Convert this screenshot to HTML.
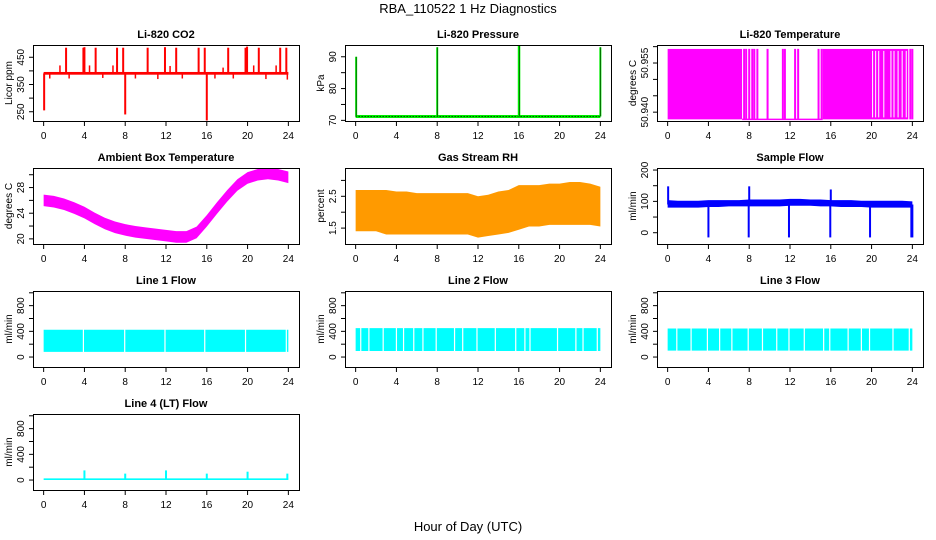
<!DOCTYPE html>
<html><head><meta charset="utf-8">
<style>
html,body{margin:0;padding:0;background:#fff;}
svg{display:block;font-family:"Liberation Sans",Arial,sans-serif;}
</style></head>
<body>
<svg id="chart" width="936" height="540" viewBox="0 0 936 540" xmlns="http://www.w3.org/2000/svg">
<text x="468" y="13" font-size="13" text-anchor="middle">RBA_110522  1 Hz Diagnostics</text>
<text x="468" y="531" font-size="13" text-anchor="middle">Hour of Day (UTC)</text>
<g id="panels"></g>
</svg>
<script>
// ---------- data ----------
const hours = [0,1,2,3,4,5,6,7,8,9,10,11,12,13,14,15,16,17,18,19,20,21,22,23,24];
const xTicks = [0,4,8,12,16,20,24];

// CO2
const co2Base = 391;
const co2SpikeHours = [0.05,2.2,3.9,4.0,5.1,7.2,7.8,8.0,10.2,11.9,13.0,15.2,15.8,16.0,18.1,19.8,19.95,21.1,23.2,23.8];
const co2SpikeVals  = [255,485,485,487,485,485,485,240,485,487,485,485,485,218,485,485,489,485,485,485];
const co2BumpHours = [1.6,4.5,6.8,12.4,17.6,20.6,22.8,0.6,2.5,5.8,9.0,11.2,13.6,16.8,18.6,21.8,23.9];
const co2BumpVals  = [420,420,420,418,412,420,420,372,372,374,372,370,372,372,372,370,368];

// Pressure
const presBase = 71.2;
const presSpikeHours = [0.05,8.0,16.0,16.05,24.0];
const presSpikeVals = [90,93,93.5,93.5,93];

// Li-820 temperature
const tLo = 50.9378, tHi = 50.9593;
const tFillStart = [0.0,15.2];
const tFillEnd   = [7.3,23.6];
const tBarHours = [7.5,7.7,8.0,8.3,8.5,8.8,9.8,11.3,11.5,12.5,12.8,14.8,15.1,23.8,24.0];
const tWhiteGaps = [20.1,20.4,20.7,21.2,21.9,22.2,22.6,23.0,23.4];

// Ambient temperature (center of band)
const ambVals = [26,25.8,25.4,24.8,24.1,23.2,22.4,21.8,21.4,21.1,20.9,20.7,20.5,20.3,20.3,21,22.8,24.8,26.7,28.4,29.5,30.0,30.2,30.0,29.6];

// Gas stream RH
const rhLo = [1.4,1.4,1.4,1.3,1.3,1.3,1.3,1.3,1.3,1.3,1.3,1.3,1.2,1.25,1.3,1.35,1.45,1.55,1.55,1.6,1.6,1.6,1.6,1.6,1.55];
const rhHi = [2.7,2.7,2.7,2.7,2.65,2.65,2.6,2.6,2.6,2.6,2.6,2.6,2.5,2.55,2.65,2.7,2.85,2.85,2.85,2.9,2.9,2.95,2.95,2.9,2.8];

// Sample flow
const sfLo = [80,80,80,80,82,82,84,84,84,84,84,84,86,86,86,84,84,82,82,82,80,80,80,80,80];
const sfHi = [104,102,102,102,104,104,104,104,106,106,106,106,108,108,106,106,104,104,104,102,102,102,102,102,100];
const sfSpikeHours = [0.05,8.0,16.0,4.0,7.95,11.9,15.95,19.85,23.9,24.0];
const sfSpikeVals  = [148,148,138,-15,-15,-15,-15,-15,-15,-15];

// Line flows
const l1Lo = 80, l1Hi = 425;
const l1Gaps = [3.9,7.95,11.9,15.8,19.8,23.8];
const l2Lo = 95, l2Hi = 450;
const l2Gaps = [0.5,1.3,2.7,4.0,4.7,5.7,6.6,7.9,9.7,10.5,11.9,13.7,15.7,16.6,17.1,19.8,21.6,22.3,23.7];
const l3Lo = 100, l3Hi = 445;
const l3Gaps = [0.9,2.3,3.9,5.1,6.3,7.9,9.3,10.7,11.9,13.4,15.3,15.9,17.7,19.0,19.8,22.1,23.7];
const l4Lo = 0, l4Hi = 25;
const l4SpikeHours = [4.0,8.0,12.0,16.0,20.0,23.9];
const l4SpikeVals = [150,100,150,100,130,100];

// ---------- layout ----------
const NS = "http://www.w3.org/2000/svg";
const G = document.getElementById('panels');
function el(tag, attrs, parent){
  const e = document.createElementNS(NS, tag);
  for (const k in attrs) e.setAttribute(k, attrs[k]);
  (parent||G).appendChild(e);
  return e;
}
const colX = [33,345,657], rowY = [45,168,291,414], W = 266, H = 76;

function panel(col,row,title,ylab,ymin,ymax,yt,ylabels,name){
  const x0 = colX[col], y0 = rowY[row];
  const g = el('g',{});
  
  
  const sx = h => x0 + W*0.04 + (h/24)*W*0.92;
  const sy = v => y0 + H - (v-ymin)/(ymax-ymin)*H;
  const t = el('text',{x:x0+W/2,y:y0-7,'font-size':11,'font-weight':'bold','text-anchor':'middle'},g);
  t.textContent = title;
  
  
  const clip = 'clip'+name;
  const cp = el('clipPath',{id:clip},g); el('rect',{x:x0,y:y0,width:W,height:H},cp);
  const d = el('g',{'clip-path':`url(#${clip})`},g);
  
  
  const box = el('rect',{x:x0+0.5,y:y0+0.5,width:W,height:H,fill:'none',stroke:'#000','stroke-width':1},g);
  
  
  const xa = el('g',{},g);
  
  
  xTicks.forEach(v=>{
    el('line',{x1:sx(v),x2:sx(v),y1:y0+H,y2:y0+H+5,stroke:'#000'},xa);
    const tx = el('text',{x:sx(v),y:y0+H+18,'font-size':10,'text-anchor':'middle'},xa);
    tx.textContent = v;
  });
  const ya = el('g',{},g);
  
  
  yt.forEach((v,i)=>{
    el('line',{x1:x0-4,x2:x0,y1:sy(v),y2:sy(v),stroke:'#000'},ya);
    if (ylabels[i]!==''){
      const tx = el('text',{x:0,y:0,'font-size':10,'text-anchor':'middle',transform:`translate(${x0-9},${sy(v)}) rotate(-90)`},ya);
      tx.textContent = ylabels[i];
    }
  });
  const yl = el('text',{x:0,y:0,'font-size':10,'text-anchor':'middle',transform:`translate(${x0-21},${y0+H/2}) rotate(-90)`},g);
  yl.textContent = ylab;
  
  
  return {sx,sy,d};
}
function band(p,lo,hi,fill){
  let pts = hours.map((h,i)=>p.sx(h)+','+p.sy(hi[i]));
  pts = pts.concat(hours.slice().reverse().map((h,j)=>{const i=hours.length-1-j;return p.sx(h)+','+p.sy(lo[i]);}));
  const pg = el('polygon',{points:pts.join(' '),fill:fill},p.d);
  
  
}
function vline(p,h,v1,v2,color,w){
  const ln = el('line',{x1:p.sx(h),x2:p.sx(h),y1:p.sy(v1),y2:p.sy(v2),stroke:color,'stroke-width':w||1},p.d);
  
  
}

// 1 CO2
let p = panel(0,0,'Li-820 CO2','Licor ppm',216,495,[250,300,350,400,450],['250','','350','','450'],'co2');
const c1 = el('rect',{x:p.sx(0),y:p.sy(co2Base+5),width:p.sx(24)-p.sx(0),height:p.sy(co2Base-5)-p.sy(co2Base+5),fill:'#ff0000'},p.d);


co2SpikeHours.forEach((h,i)=>{vline(p,h,co2Base,co2SpikeVals[i],'#ff0000',2);});
co2BumpHours.forEach((h,i)=>{vline(p,h,co2Base,co2BumpVals[i],'#ff0000',1.5);});

// 2 Pressure
p = panel(1,0,'Li-820 Pressure','kPa',69.8,93.7,[70,75,80,85,90],['70','','80','','90'],'pressure');
const pl = el('line',{x1:p.sx(0),x2:p.sx(24),y1:p.sy(presBase),y2:p.sy(presBase),stroke:'#00ee00','stroke-width':3},p.d);


const pl2 = el('line',{x1:p.sx(0),x2:p.sx(24),y1:p.sy(presBase),y2:p.sy(presBase),stroke:'#000','stroke-width':1,'stroke-dasharray':'1 2'},p.d);


presSpikeHours.forEach((h,i)=>{vline(p,h,presBase,presSpikeVals[i],'#00ee00',2);vline(p,h,presBase,presSpikeVals[i],'#000',0.5);});

// 3 Li-820 temperature
p = panel(2,0,'Li-820 Temperature','degrees C',50.9373,50.9605,[50.940,50.945,50.950,50.955,50.960],['50.940','','','50.955',''],'li820-temp');
tFillStart.forEach((s,i)=>{
  const r = el('rect',{x:p.sx(s),y:p.sy(tHi),width:p.sx(tFillEnd[i])-p.sx(s),height:p.sy(tLo)-p.sy(tHi),fill:'#ff00ff'},p.d);
  
  
});
tWhiteGaps.forEach(h=>vline(p,h,tLo+0.0006,tHi-0.0006,'#ffffff',1));
const tl = el('line',{x1:p.sx(7.3),x2:p.sx(15.2),y1:p.sy(tLo),y2:p.sy(tLo),stroke:'#ff00ff','stroke-width':1.5},p.d);


tBarHours.forEach(h=>vline(p,h,tLo,tHi,'#ff00ff',2));

// 4 Ambient
p = panel(0,1,'Ambient Box Temperature','degrees C',19.2,31.05,[20,22,24,26,28,30],['20','','24','','28',''],'ambient-temp');
band(p,ambVals.map(v=>v-0.9),ambVals.map(v=>v+0.9),'#ff00ff');

// 5 RH
p = panel(1,1,'Gas Stream RH','percent',1.0,3.39,[1.5,2.0,2.5,3.0],['1.5','','2.5',''],'gas-rh');
band(p,rhLo,rhHi,'#ff9a00');

// 6 Sample flow
p = panel(2,1,'Sample Flow','ml/min',-36,206.5,[0,50,100,150,200],['0','','100','','200'],'sample-flow');
band(p,sfLo,sfHi,'#0000ff');
sfSpikeHours.forEach((h,i)=>vline(p,h,90,sfSpikeVals[i],'#0000ff',2));

// 7-9 Line flows
function flow(col,row,title,name,lo,hi,gaps){
  const q = panel(col,row,title,'ml/min',-155,1028,[0,200,400,600,800,1000],['0','','400','','800',''],name);
  band(q,hours.map(()=>lo),hours.map(()=>hi),'#00ffff');
  gaps.forEach(h=>vline(q,h,lo-20,hi+20,'#ffffff',1.2));
  return q;
}
flow(0,2,'Line 1 Flow','line1-flow',l1Lo,l1Hi,l1Gaps);
flow(1,2,'Line 2 Flow','line2-flow',l2Lo,l2Hi,l2Gaps);
flow(2,2,'Line 3 Flow','line3-flow',l3Lo,l3Hi,l3Gaps);
p = flow(0,3,'Line 4 (LT) Flow','line4-flow',l4Lo,l4Hi,[]);
l4SpikeHours.forEach((h,i)=>vline(p,h,10,l4SpikeVals[i],'#00ffff',2));
</script>
</body></html>
